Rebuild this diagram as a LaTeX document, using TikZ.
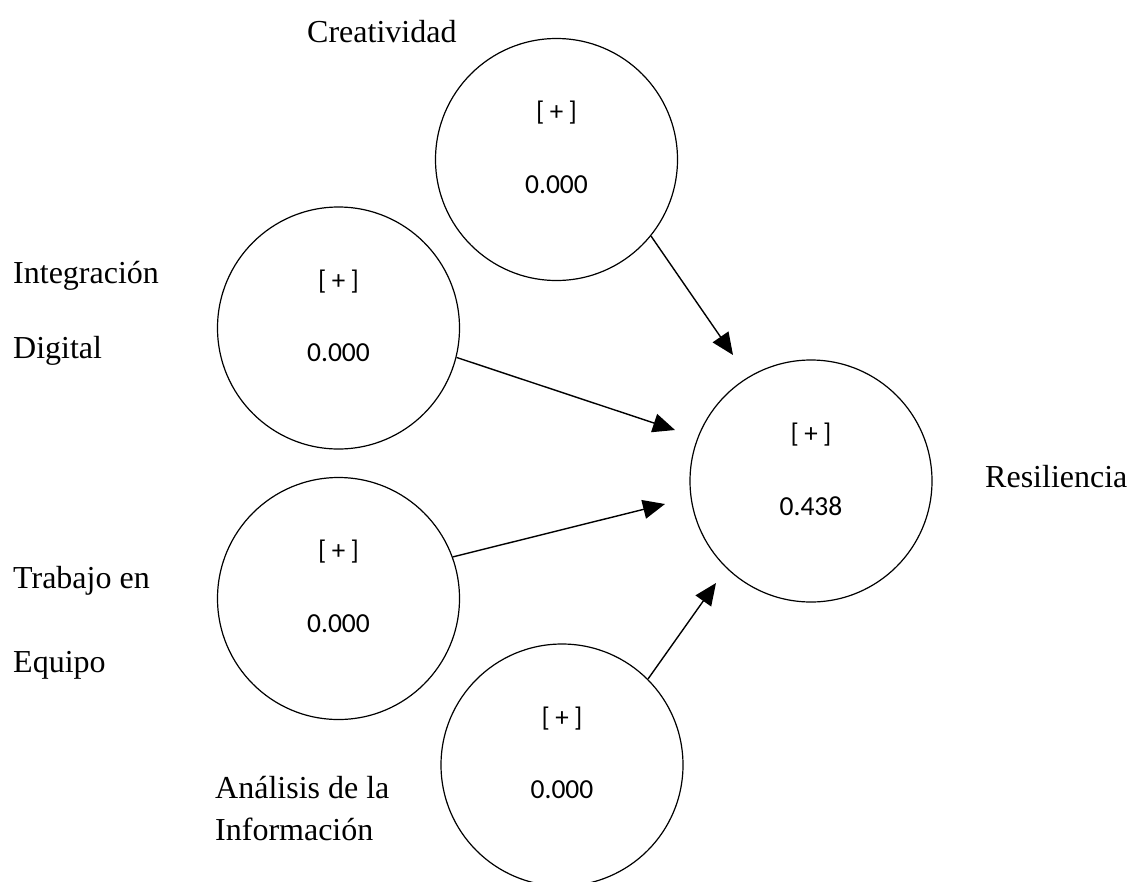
\documentclass[tikz,border=0pt]{standalone}
\usepackage{fontspec}
\setmainfont{Liberation Serif}
\newfontfamily\valfont{Carlito}
\usetikzlibrary{arrows.meta}
\tikzset{
  construct/.style={draw, circle, line width=1.2pt, minimum size=242pt, inner sep=0pt},
  sign/.style={font=\valfont\fontsize{27}{32}\selectfont, inner sep=0pt},
  val/.style={font=\valfont\fontsize{27.5}{32}\selectfont, inner sep=0pt},
  lbl/.style={font=\fontsize{32}{36}\selectfont, anchor=base west, inner sep=0pt},
  path/.style={draw, line width=1.4pt, -{Triangle[length=22pt,width=19pt]}}
}
\begin{document}
\begin{tikzpicture}[x=1pt,y=-1pt]
\useasboundingbox (0,0) rectangle (1129,881);
\clip (0,0) rectangle (1129,881);
% constructs
\node[construct] (cre) at (556.5,159.5) {};
\node[construct] (int) at (338.5,328) {};
\node[construct] (res) at (811,481) {};
\node[construct] (tra) at (338.5,598.5) {};
\node[construct] (ana) at (562,765) {};
% inner texts
\foreach \n/\v in {cre/0.000, int/0.000, tra/0.000, ana/0.000, res/0.438}{
  \node[sign] (\n s) at ([yshift=46.5pt]\n.center) {[\hspace{0.2em}+\hspace{0.2em}]};
  \node[val] (\n v) at ([yshift=-25pt]\n.center) {\v};
}
% labels
\node[lbl] (lcre) at (307,42) {Creatividad};
\node[lbl] (lint1) at (13,283) {Integración};
\node[lbl] (lint2) at (13,358) {Digital};
\node[lbl] (ltra1) at (13,588) {Trabajo en};
\node[lbl] (ltra2) at (13,672) {Equipo};
\node[lbl] (lana1) at (215,798) {Análisis de la};
\node[lbl] (lana2) at (215,840) {Información};
\node[lbl] (lres) at (985,487) {Resiliencia};
% arrow end points
\coordinate (t1) at (733,355);
\coordinate (t2) at (675,430);
\coordinate (t3) at (665,504);
\coordinate (t4) at (716,583);
\draw[path] (cre.-39.4) -- (t1);
\draw[path] (int.-14.9) -- (t2);
\draw[path] (tra.20) -- (t3);
\draw[path] (ana.45.3) -- (t4);
\end{tikzpicture}
\end{document}
